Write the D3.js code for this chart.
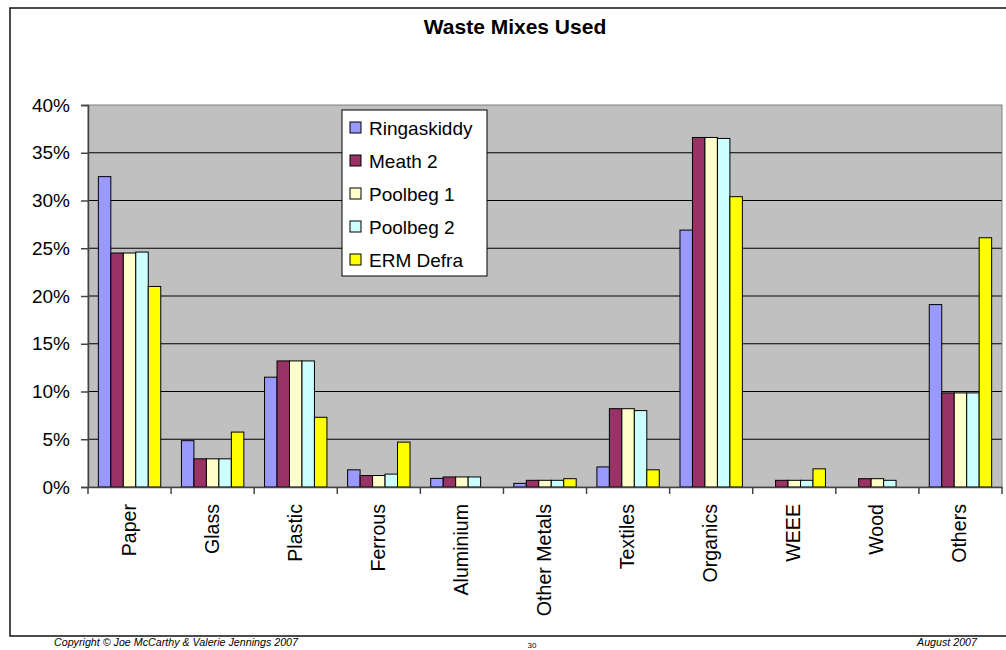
<!DOCTYPE html>
<html>
<head>
<meta charset="utf-8">
<script src="https://cdn.jsdelivr.net/npm/d3@7"></script>
<style>
  html, body { margin: 0; padding: 0; background: #fff; }
  svg { display: block; font-family: Arial, "Liberation Sans", sans-serif; }
</style>
</head>
<body>
<svg id="chart" width="1006" height="650"></svg>
<script>
const categories = ["Paper", "Glass", "Plastic", "Ferrous", "Aluminium", "Other Metals", "Textiles", "Organics", "WEEE", "Wood", "Others"];
const seriesNames = ["Ringaskiddy", "Meath 2", "Poolbeg 1", "Poolbeg 2", "ERM Defra"];
const ringaskiddy = [32.5, 4.85, 11.5, 1.8, 0.9, 0.38, 2.1, 26.9, 0, 0, 19.1];
const meath2      = [24.5, 2.95, 13.2, 1.2, 1.05, 0.7, 8.2, 36.6, 0.7, 0.87, 9.85];
const poolbeg1    = [24.5, 2.95, 13.2, 1.2, 1.05, 0.7, 8.2, 36.6, 0.7, 0.87, 9.85];
const poolbeg2    = [24.6, 2.95, 13.2, 1.35, 1.05, 0.7, 8.0, 36.5, 0.7, 0.7, 9.85];
const ermDefra    = [21.0, 5.75, 7.3, 4.7, 0, 0.87, 1.8, 30.4, 1.9, 0, 26.1];
const yTicks = [0, 5, 10, 15, 20, 25, 30, 35, 40];
const colors = ["#9999FF", "#993366", "#FFFFCC", "#CCFFFF", "#FFFF00"];

const seriesValues = [ringaskiddy, meath2, poolbeg1, poolbeg2, ermDefra];

const svg = d3.select("#chart");
const plot = { left: 88, right: 1002, top: 105, bottom: 487 };

// outer frame
svg.append("rect").attr("x", 10).attr("y", 8).attr("width", 1000).attr("height", 628)
  .attr("fill", "#fff").attr("stroke", "#111").attr("stroke-width", 1.5);

// title
svg.append("text").attr("x", 515).attr("y", 34).attr("text-anchor", "middle")
  .attr("font-size", 21).attr("font-weight", "bold").attr("fill", "#000")
  .text("Waste Mixes Used");

const x0 = d3.scaleBand().domain(categories).range([plot.left, plot.right]).paddingInner(0).paddingOuter(0);
const x1 = d3.scaleBand().domain(seriesNames).range([0, x0.bandwidth()]).paddingInner(0).paddingOuter(0.83);
const y = d3.scaleLinear().domain([0, 40]).range([plot.bottom, plot.top]);

// plot background
svg.append("rect").attr("x", plot.left).attr("y", plot.top)
  .attr("width", plot.right - plot.left).attr("height", plot.bottom - plot.top)
  .attr("fill", "#C0C0C0");

// gridlines
svg.append("g").selectAll("line").data(yTicks.filter(t => t > 0 && t < 40)).join("line")
  .attr("x1", plot.left).attr("x2", plot.right)
  .attr("y1", d => y(d)).attr("y2", d => y(d))
  .attr("stroke", "#000").attr("stroke-width", 1);

// plot border (gray)
svg.append("rect").attr("x", plot.left).attr("y", plot.top)
  .attr("width", plot.right - plot.left).attr("height", plot.bottom - plot.top)
  .attr("fill", "none").attr("stroke", "#808080").attr("stroke-width", 1);

// bars
const data = [];
categories.forEach((c, i) => {
  seriesNames.forEach((s, j) => {
    data.push({ cat: c, ser: s, v: seriesValues[j][i], color: colors[j] });
  });
});
svg.append("g").selectAll("rect").data(data.filter(d => d.v > 0)).join("rect")
  .attr("x", d => x0(d.cat) + x1(d.ser))
  .attr("y", d => y(d.v))
  .attr("width", x1.bandwidth())
  .attr("height", d => y(0) - y(d.v))
  .attr("fill", d => d.color)
  .attr("stroke", "#000").attr("stroke-width", 1);

// y axis
const yAxis = d3.axisLeft(y).tickValues(yTicks).tickSize(7).tickPadding(11).tickFormat(d => d + "%");
const gy = svg.append("g").attr("transform", `translate(${plot.left},0)`).call(yAxis);
gy.select(".domain").attr("stroke", "#444").attr("stroke-width", 1.5);
gy.selectAll(".tick line").attr("stroke", "#444").attr("stroke-width", 1.5);
gy.selectAll(".tick text").attr("font-size", 19).attr("fill", "#000")
  .attr("font-family", "Arial, 'Liberation Sans', sans-serif");

// x axis
const xAxis = d3.axisBottom(x0).tickSize(0).tickFormat("");
const gx = svg.append("g").attr("transform", `translate(0,${plot.bottom})`).call(xAxis);
gx.select(".domain").attr("stroke", "#444").attr("stroke-width", 1.5);
// category boundary ticks
const boundaries = categories.map(c => x0(c)).concat([plot.right]);
gx.selectAll(".bt").data(boundaries).join("line").attr("class", "bt")
  .attr("x1", d => d).attr("x2", d => d).attr("y1", 0).attr("y2", 7)
  .attr("stroke", "#444").attr("stroke-width", 1.5);
// labels
svg.append("g").selectAll("text").data(categories).join("text")
  .attr("transform", d => `translate(${x0(d) + x0.bandwidth() / 2 - 1},504) rotate(-90)`)
  .attr("text-anchor", "end").attr("dominant-baseline", "central")
  .attr("font-size", 19.6).attr("fill", "#000")
  .text(d => d);

// legend
const lg = svg.append("g").attr("transform", "translate(342,110)");
lg.append("rect").attr("x", 0).attr("y", 0).attr("width", 145).attr("height", 166)
  .attr("fill", "#fff").attr("stroke", "#000").attr("stroke-width", 1);
const items = lg.selectAll("g.item").data(seriesNames).join("g").attr("class", "item")
  .attr("transform", (d, i) => `translate(0,${18 + i * 33})`);
items.append("rect").attr("x", 8).attr("y", -6).attr("width", 11).attr("height", 11)
  .attr("fill", (d, i) => colors[i]).attr("stroke", "#000").attr("stroke-width", 1);
items.append("text").attr("x", 27).attr("y", 0).attr("dominant-baseline", "central")
  .attr("font-size", 19).attr("fill", "#000").text(d => d);

// footer
svg.append("text").attr("x", 54).attr("y", 646).attr("font-size", 11).attr("font-style", "italic")
  .attr("textLength", 244).attr("lengthAdjust", "spacingAndGlyphs").attr("fill", "#000")
  .text("Copyright © Joe McCarthy & Valerie Jennings 2007");
svg.append("text").attr("x", 917).attr("y", 646).attr("font-size", 11).attr("font-style", "italic")
  .attr("textLength", 60).attr("lengthAdjust", "spacingAndGlyphs").attr("fill", "#000")
  .text("August 2007");
svg.append("text").attr("x", 532).attr("y", 648).attr("font-size", 8).attr("text-anchor", "middle")
  .attr("fill", "#000").text("30");
</script>
</body>
</html>
